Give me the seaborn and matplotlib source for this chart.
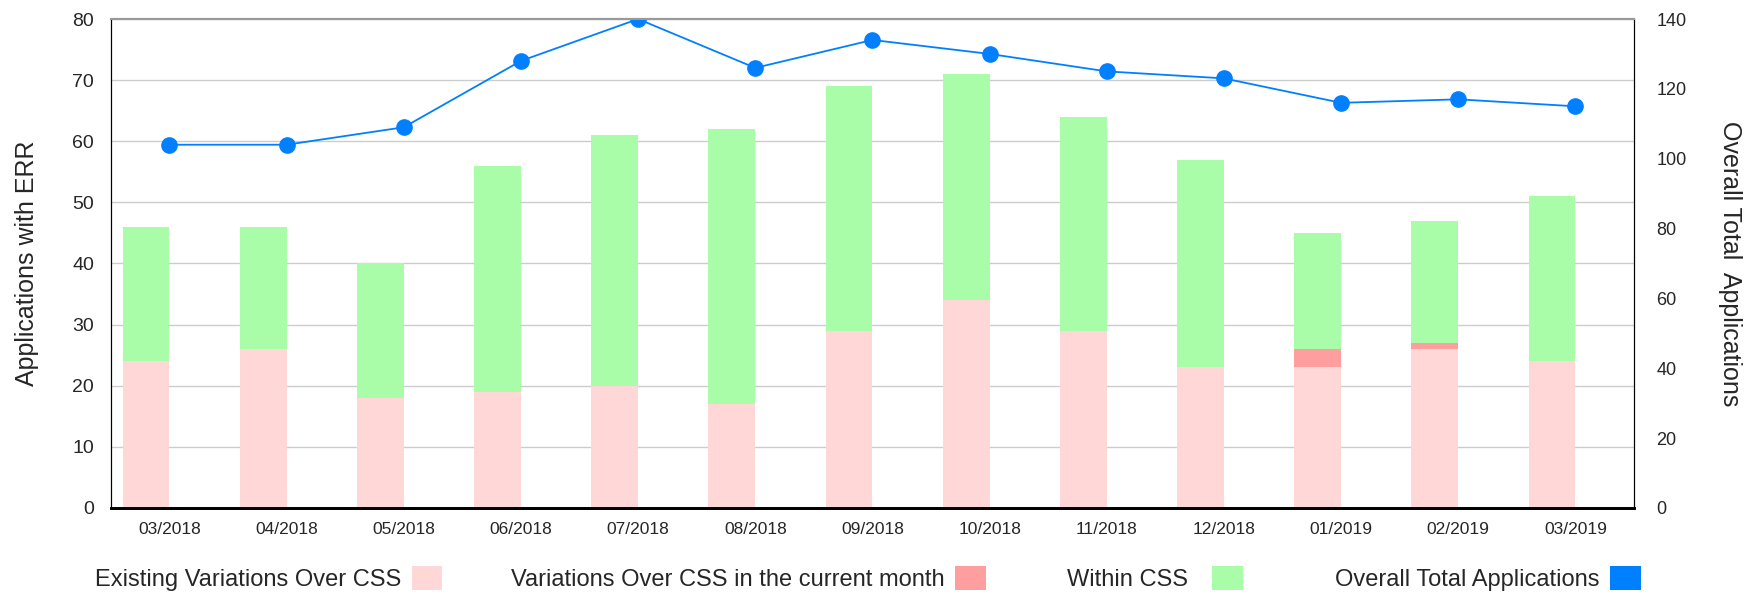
import numpy as np
import pandas as pd
import matplotlib
matplotlib.use("Agg")
import matplotlib.pyplot as plt
from matplotlib.patches import Patch
import seaborn as sns

# Data
months = ["03/2018", "04/2018", "05/2018", "06/2018", "07/2018", "08/2018", "09/2018",
          "10/2018", "11/2018", "12/2018", "01/2019", "02/2019", "03/2019"]
existing_over_css = [24, 26, 18, 19, 20, 17, 29, 34, 29, 23, 23, 26, 24]
new_over_css = [0, 0, 0, 0, 0, 0, 0, 0, 0, 0, 3, 1, 0]
within_css = [22, 20, 22, 37, 41, 45, 40, 37, 35, 34, 19, 20, 27]
overall_total = [104, 104, 109, 128, 140, 126, 134, 130, 125, 123, 116, 117, 115]

labels = ["Existing Variations Over CSS", "Variations Over CSS in the current month",
          "Within CSS", "Overall Total Applications"]
c_pink = "#ffd7d7"
c_red = "#ff9e9e"
c_green = "#a9fda9"
c_blue = "#0080ff"

df = pd.DataFrame({
    "month": months,
    "existing": existing_over_css,
    "new": new_over_css,
    "within": within_css,
    "overall": overall_total,
})
df["lvl1"] = df["existing"]
df["lvl2"] = df["existing"] + df["new"]
df["lvl3"] = df["lvl2"] + df["within"]
df["slot"] = "bars"

sns.set_style("white")
plt.rcParams["font.family"] = ["Liberation Sans", "DejaVu Sans"]

fig, ax = plt.subplots(figsize=(17.6, 5.94), dpi=100)
fig.subplots_adjust(left=0.063, right=0.9284, top=0.968, bottom=0.145)

# stacked bars: draw cumulative totals back to front; the empty second hue slot
# puts each bar just left of its month tick, like the original
for col, colr in [("lvl3", c_green), ("lvl2", c_red), ("lvl1", c_pink)]:
    sns.barplot(data=df, x="month", y=col, hue="slot", hue_order=["bars", "line"],
                palette={"bars": colr, "line": colr}, dodge=True, width=0.8,
                saturation=1, legend=False, ax=ax, zorder=2,
                edgecolor="none", linewidth=0)

ax.set_ylim(0, 80)
ax.set_yticks(range(0, 81, 10))
ax.grid(axis="y", color="#cccccc", linewidth=1)
ax.set_axisbelow(True)
ax.set_xlabel("")
ax.set_ylabel("Applications with ERR", fontsize=18, labelpad=24)
ax.tick_params(axis="y", labelsize=14, length=0, pad=12)
ax.tick_params(axis="x", labelsize=12.5, length=0, pad=10)

# line on secondary axis
ax2 = ax.twinx()
sns.pointplot(data=df, x="month", y="overall", color=c_blue, markers="o",
              linestyles="-", linewidth=1.3, markersize=11, ax=ax2)
ax2.set_ylim(0, 140)
ax2.set_yticks(range(0, 141, 20))
ax2.set_ylabel("Overall Total  Applications", fontsize=18, rotation=270, labelpad=40)
ax2.tick_params(axis="y", labelsize=13, length=0, pad=16)
ax2.set_xlabel("")

for a in (ax, ax2):
    a.spines["left"].set_color("black")
    a.spines["right"].set_color("black")
    a.spines["bottom"].set_color("black")
    a.spines["bottom"].set_linewidth(2)
    a.spines["top"].set_color("#999999")
    a.spines["top"].set_linewidth(1.5)

ax.set_xlim(-0.5, len(months) - 0.5)
ax2.set_xlim(-0.5, len(months) - 0.5)

# legend: text first, then the swatch, spread along the bottom
colors = [c_pink, c_red, c_green, c_blue]
anchors = [0.2513, 0.560, 0.706, 0.9324]
pads = [0.45, 0.45, 1.0, 0.45]
for lab, colr, xa, tp in zip(labels, colors, anchors, pads):
    fig.legend(handles=[Patch(facecolor=colr, edgecolor="none")], labels=[lab],
               loc="center right", bbox_to_anchor=(xa, 0.026), frameon=False,
               markerfirst=False, fontsize=17, handlelength=1.3, handleheight=1.2,
               handletextpad=tp, borderaxespad=0, borderpad=0)

plt.savefig("out.png", dpi=100)
